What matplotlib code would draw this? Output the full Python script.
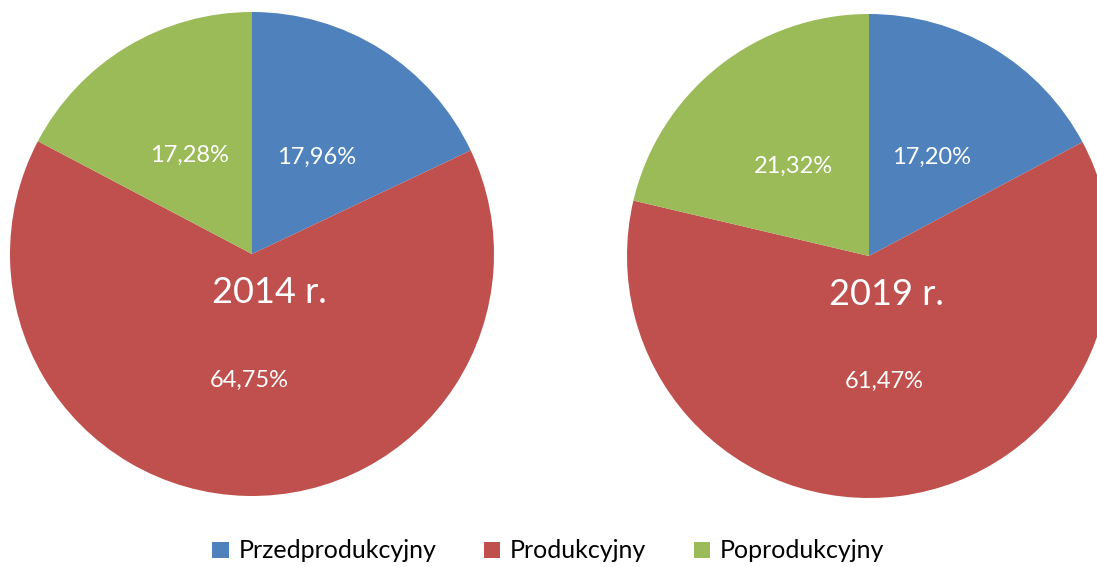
import matplotlib
matplotlib.use("Agg")
import matplotlib.pyplot as plt

# data
categories = ["Przedprodukcyjny", "Produkcyjny", "Poprodukcyjny"]
years = ["2014 r.", "2019 r."]
shares_2014 = [17.96, 64.75, 17.28]
shares_2019 = [17.20, 61.47, 21.32]
colors = ["#4F81BD", "#C0504D", "#9BBB59"]

plt.rcParams['font.family'] = ['Lato', 'DejaVu Sans']

W, H = 1097, 567
fig = plt.figure(figsize=(W / 100, H / 100), dpi=100)

# axes boxes in pixels (left, top, size)
boxes = [(10, 12, 484), (627, 14, 484)]

def fmt(values):
    it = iter(values)
    return lambda p: f"{next(it):.2f}".replace('.', ',') + "%"

wedges_all = []
for (left, top, size), year, shares in zip(boxes, years, [shares_2014, shares_2019]):
    ax = fig.add_axes([left / W, (H - top - size) / H, size / W, size / H])
    wedges, _, autotexts = ax.pie(shares, colors=colors, startangle=90, counterclock=False,
                                  autopct=fmt(shares), pctdistance=0.5,
                                  wedgeprops=dict(linewidth=0))
    for t in autotexts:
        x, y = t.get_position()
        t.set_position((x, y - 0.022))
        t.set_color("white")
        t.set_fontsize(17)
    ax.text(0.07, -0.16, year, ha="center", va="center", color="white", fontsize=26)
    ax.set_xlim(-1, 1)
    ax.set_ylim(-1, 1)
    ax.set_aspect("equal")
    wedges_all = wedges

fig.legend(wedges_all, categories, loc="center", bbox_to_anchor=(0.5, 1 - 551 / H),
           ncol=3, frameon=False, fontsize=18, handlelength=0.65, handleheight=0.6,
           handletextpad=0.4, columnspacing=1.9, borderpad=0)

fig.savefig("out.png", dpi=100)
